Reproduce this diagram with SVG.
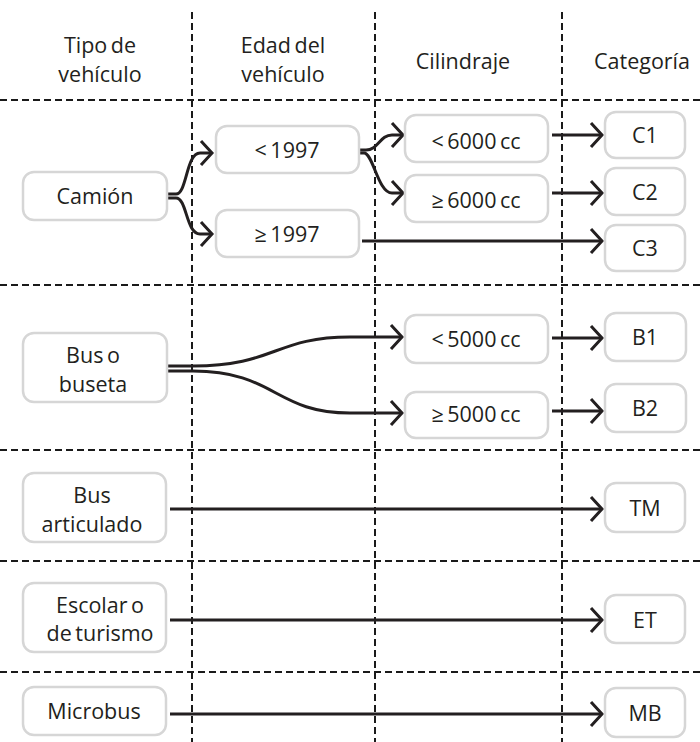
<svg xmlns="http://www.w3.org/2000/svg" width="700" height="742" viewBox="0 0 700 742">
<style>
  .grid { stroke: #1a1a1a; stroke-width: 2; stroke-dasharray: 7 4; fill: none; }
  .box { fill: #ffffff; stroke: #d6d6d6; stroke-width: 2.5; }
  .t { font-family: "Open Sans", "Liberation Sans", sans-serif; font-size: 21.5px; fill: #231f20; text-anchor: middle; word-spacing: -2px; }
  .ca { stroke: #231f20; stroke-width: 3; fill: none; marker-end: url(#chev); }
</style>
<defs>
  <marker id="chev" markerUnits="userSpaceOnUse" viewBox="-16 -16 20 32" markerWidth="20" markerHeight="32" refX="0" refY="0" orient="auto">
    <path d="M-11,-12 L0,0 L-11,12" fill="none" stroke="#231f20" stroke-width="3"/>
  </marker>
</defs>
<rect width="700" height="742" fill="#ffffff"/>
<g id="grid">
  <line class="grid" x1="192" y1="12" x2="192" y2="742"/>
  <line class="grid" x1="375" y1="12" x2="375" y2="742"/>
  <line class="grid" x1="562" y1="12" x2="562" y2="742"/>
  <line class="grid" x1="0" y1="100" x2="700" y2="100"/>
  <line class="grid" x1="0" y1="285" x2="700" y2="285"/>
  <line class="grid" x1="0" y1="450" x2="700" y2="450"/>
  <line class="grid" x1="0" y1="561" x2="700" y2="561"/>
  <line class="grid" x1="0" y1="672" x2="700" y2="672"/>
</g>
<g id="headers">
  <text class="t" x="100" y="53">Tipo de</text>
  <text class="t" x="100" y="82">vehículo</text>
  <text class="t" x="283" y="53">Edad del</text>
  <text class="t" x="283" y="82">vehículo</text>
  <text class="t" x="463" y="69">Cilindraje</text>
  <text class="t" x="642" y="69">Categoría</text>
</g>
<g id="connectors">
  <path class="ca" d="M167,194 L176,194 C187,194 186,153 200,153 L212,153"/>
  <path class="ca" d="M167,198 L176,198 C187,198 186,234 200,234 L212,234"/>
  <path class="ca" d="M359,150 L366,150 C378,150 380,135 392,135 L403,135"/>
  <path class="ca" d="M359,153 L364,153 C373,153 378,193 392,193 L403,193"/>
  <path class="ca" d="M552,135 L602,135"/>
  <path class="ca" d="M552,193 L602,193"/>
  <path class="ca" d="M362,241 L602,241"/>
  <path class="ca" d="M167,366 L193,366 C275,366 275,337 350,337 L402,337"/>
  <path class="ca" d="M167,371 L193,371 C275,371 275,413 350,413 L402,413"/>
  <path class="ca" d="M552,338 L602,338"/>
  <path class="ca" d="M552,411 L602,411"/>
  <path class="ca" d="M170,509 L602,509"/>
  <path class="ca" d="M170,620 L602,620"/>
  <path class="ca" d="M170,714 L602,714"/>
</g>
<g id="n-camion"><rect class="box" x="23" y="172" width="144" height="48" rx="11"/><text class="t" x="95" y="204">Camión</text></g>
<g id="n-lt1997"><rect class="box" x="216" y="126" width="143" height="47" rx="11"/><text class="t" x="287" y="158">&lt; 1997</text></g>
<g id="n-ge1997"><rect class="box" x="216" y="210" width="143" height="47" rx="11"/><text class="t" x="287" y="242">≥ 1997</text></g>
<g id="n-lt6000"><rect class="box" x="405" y="115" width="143" height="47" rx="11"/><text class="t" x="476" y="149">&lt; 6000 cc</text></g>
<g id="n-ge6000"><rect class="box" x="405" y="175" width="143" height="47" rx="11"/><text class="t" x="476" y="208">≥ 6000 cc</text></g>
<g id="n-c1"><rect class="box" x="605" y="112" width="80" height="46" rx="11"/><text class="t" x="645" y="143">C1</text></g>
<g id="n-c2"><rect class="box" x="605" y="168" width="80" height="47" rx="11"/><text class="t" x="645" y="200">C2</text></g>
<g id="n-c3"><rect class="box" x="605" y="225" width="80" height="46" rx="11"/><text class="t" x="645" y="256">C3</text></g>
<g id="n-bus"><rect class="box" x="23" y="333" width="144" height="69" rx="11"/><text class="t" x="93" y="363">Bus o</text><text class="t" x="93" y="392">buseta</text></g>
<g id="n-lt5000"><rect class="box" x="405" y="315" width="143" height="48" rx="11"/><text class="t" x="476" y="347">&lt; 5000 cc</text></g>
<g id="n-ge5000"><rect class="box" x="405" y="392" width="143" height="46" rx="11"/><text class="t" x="476" y="422">≥ 5000 cc</text></g>
<g id="n-b1"><rect class="box" x="605" y="313" width="81" height="48" rx="11"/><text class="t" x="645" y="345">B1</text></g>
<g id="n-b2"><rect class="box" x="605" y="384" width="81" height="48" rx="11"/><text class="t" x="645" y="416">B2</text></g>
<g id="n-busart"><rect class="box" x="23" y="473" width="143" height="69" rx="11"/><text class="t" x="92" y="503">Bus</text><text class="t" x="92" y="532">articulado</text></g>
<g id="n-tm"><rect class="box" x="605" y="483" width="80" height="49" rx="11"/><text class="t" x="645" y="516">TM</text></g>
<g id="n-escolar"><rect class="box" x="23" y="583" width="143" height="69" rx="11"/><text class="t" x="100" y="613">Escolar o</text><text class="t" x="100" y="641">de turismo</text></g>
<g id="n-et"><rect class="box" x="605" y="595" width="80" height="48" rx="11"/><text class="t" x="645" y="628">ET</text></g>
<g id="n-micro"><rect class="box" x="23" y="687" width="143" height="48" rx="11"/><text class="t" x="94" y="719">Microbus</text></g>
<g id="n-mb"><rect class="box" x="605" y="688" width="80" height="49" rx="11"/><text class="t" x="645" y="721">MB</text></g>
</svg>
